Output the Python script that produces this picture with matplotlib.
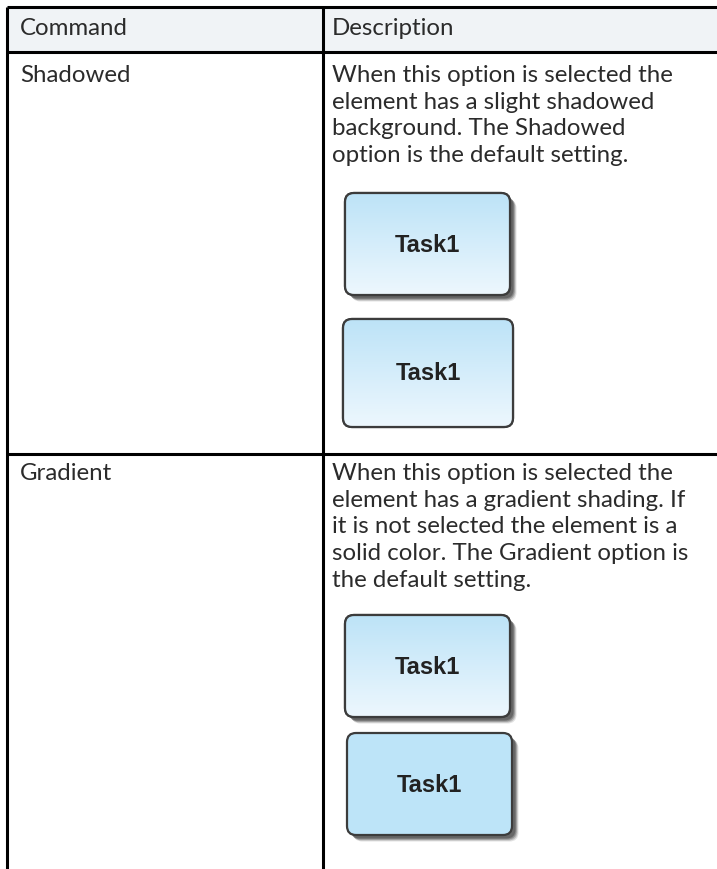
import matplotlib.pyplot as plt
import numpy as np
from matplotlib.patches import FancyBboxPatch, Rectangle

# ---------------------- DATA ----------------------

headers = ['Command', 'Description']
commands = ['Shadowed', 'Gradient']
descriptions = [
    ['When this option is selected the',
     'element has a slight shadowed',
     'background. The Shadowed',
     'option is the default setting.'],
    ['When this option is selected the',
     'element has a gradient shading. If',
     'it is not selected the element is a',
     'solid color. The Gradient option is',
     'the default setting.'],
]
task_label = 'Task1'
# per row: (has shadow, has gradient) for the two sample boxes
box_flags = [
    [(True, True), (False, True)],
    [(True, True), (True, False)],
]

# ---------------------- LAYOUT ----------------------

W, H = 717, 869
LEFT, DIV, TOP = 7, 323, 7
HEADER_BOTTOM = 52
ROW_LINES = [HEADER_BOTTOM, 454]
LINE_W = 2.2
TEXT_COLOR = '#2b2b2b'
FONT = 'Lato'

desc_first_baseline = [82, 480]
line_step = 26.7
boxes = [
    [(345, 193, 165, 102), (343, 319, 170, 108)],
    [(345, 615, 165, 102), (347, 733, 165, 102)],
]

grad_top = np.array([0.74, 0.89, 0.97])
grad_bottom = np.array([0.93, 0.97, 0.995])
solid_fill = '#bde4f8'

fig = plt.figure(figsize=(W / 100, H / 100), dpi=100)
ax = fig.add_axes([0, 0, 1, 1])
ax.set_xlim(0, W)
ax.set_ylim(H, 0)
ax.axis('off')

# header background
ax.add_patch(Rectangle((LEFT, TOP), W - LEFT, HEADER_BOTTOM - TOP,
                       facecolor='#f0f3f6', edgecolor='none', zorder=0))

# grid lines
ax.plot([LEFT, W], [TOP, TOP], color='black', lw=LINE_W, solid_capstyle='butt')
for y in ROW_LINES:
    ax.plot([LEFT, W], [y, y], color='black', lw=LINE_W, solid_capstyle='butt')
ax.plot([LEFT, LEFT], [TOP, H], color='black', lw=LINE_W, solid_capstyle='butt')
ax.plot([DIV, DIV], [TOP, H], color='black', lw=LINE_W, solid_capstyle='butt')

txt = dict(fontsize=17.3, family=FONT, color=TEXT_COLOR, va='baseline', ha='left')
ax.text(LEFT + 13, 35, headers[0], **txt)
ax.text(DIV + 9, 35, headers[1], **txt)


def draw_box(x, y, w, h, shadow, gradient):
    if shadow:
        for off, a in [(6.5, 0.15), (5.5, 0.25), (4.5, 0.35), (3.5, 0.45)]:
            sh = FancyBboxPatch((x + off, y + off), w, h,
                                boxstyle='round,pad=0,rounding_size=9',
                                facecolor='#3a3a3a', edgecolor='none',
                                alpha=a, zorder=2)
            ax.add_patch(sh)
    box = FancyBboxPatch((x, y), w, h, boxstyle='round,pad=0,rounding_size=9',
                         facecolor=solid_fill if not gradient else 'white',
                         edgecolor='#3c3c3c', lw=1.6, zorder=3)
    ax.add_patch(box)
    if gradient:
        t = np.linspace(0, 1, 200)[:, None, None]
        arr = grad_top * (1 - t) + grad_bottom * t
        im = ax.imshow(arr, extent=[x, x + w, y + h, y], origin='upper',
                       aspect='auto', zorder=3.5, interpolation='bilinear')
        im.set_clip_path(box)
        edge = FancyBboxPatch((x, y), w, h, boxstyle='round,pad=0,rounding_size=9',
                              facecolor='none', edgecolor='#3c3c3c', lw=1.6, zorder=4)
        ax.add_patch(edge)
    ax.text(x + w / 2, y + h / 2 + 1, task_label, fontsize=17,
            family='Liberation Sans', fontweight='bold', color='#222222',
            ha='center', va='center', zorder=5)


for r, cmd in enumerate(commands):
    base = desc_first_baseline[r]
    ax.text(LEFT + 13, base, cmd, **txt)
    for k, line in enumerate(descriptions[r]):
        ax.text(DIV + 9, base + k * line_step, line, **txt)
    for (bx, by, bw, bh), (sh, gr) in zip(boxes[r], box_flags[r]):
        draw_box(bx, by, bw, bh, sh, gr)

ax.set_xlim(0, W)
ax.set_ylim(H, 0)
fig.savefig('out.png', dpi=100, facecolor='white')
